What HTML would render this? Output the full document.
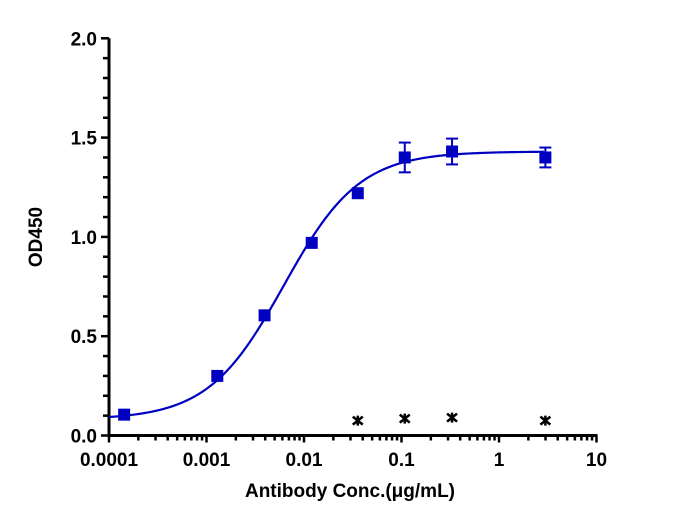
<!DOCTYPE html>
<html><head><meta charset="utf-8"><style>
html,body{margin:0;padding:0;background:#fff;}
svg{display:block;font-family:"Liberation Sans",Arial,sans-serif;}
</style></head><body>
<svg id="chart" width="676" height="519" viewBox="0 0 676 519"></svg>
<script>
const concValues=[0.000143,0.00129,0.00394,0.0120,0.0356,0.108,0.33,2.99];
const odValues=[0.105,0.30,0.605,0.97,1.22,1.40,1.43,1.40];
const odErrors=[0,0,0,0,0,0.075,0.065,0.05];
const ctrlConc=[0.0356,0.108,0.33,2.99];
const ctrlValues=[0.075,0.085,0.09,0.075];
const xTickLabels=["0.0001","0.001","0.01","0.1","1","10"];
const yTickLabels=["0.0","0.5","1.0","1.5","2.0"];
const fitParams=[0.08,1.43,0.0062,1.12]; // bottom, top, EC50, hill

const svgEl=document.getElementById('chart');
const NS='http://www.w3.org/2000/svg';
const X0=109,PXD=97.5,Y0=435.5,PXU=198.6;
function xs(v){return X0+(Math.log10(v)+4)*PXD;}
function ys(v){return Y0-v*PXU;}
function mk(tag,attrs,parent){const e=document.createElementNS(NS,tag);for(const k in attrs)e.setAttribute(k,attrs[k]);(parent||svgEl).appendChild(e);return e;}

const ax=mk('g',{});


let ln=mk('line',{x1:X0,y1:ys(2),x2:X0,y2:Y0+1.5,stroke:'#000','stroke-width':3},ax);


ln=mk('line',{x1:X0-1.5,y1:Y0,x2:xs(10)+1,y2:Y0,stroke:'#000','stroke-width':3},ax);


for(let i=0;i<=20;i++){
  const v=i*0.1,major=(i%5===0);
  ln=mk('line',{x1:X0-(major?8:6),y1:ys(v),x2:X0,y2:ys(v),stroke:'#000','stroke-width':2.5},ax);
  
  
}
yTickLabels.forEach(s=>{
  const tx=mk('text',{x:X0-12,y:ys(parseFloat(s))+7,'text-anchor':'end','font-size':19,'font-weight':'bold'},ax);
  tx.textContent=s;
  
  
});
for(let dd=-4;dd<=1;dd++){
  for(let m=1;m<=9;m++){
    if(dd===1&&m>1)break;
    const v=m*Math.pow(10,dd);
    const major=m===1;
    ln=mk('line',{x1:xs(v),y1:Y0,x2:xs(v),y2:Y0+(major?7:5),stroke:'#000','stroke-width':2.5},ax);
    
    
  }
}
xTickLabels.forEach(s=>{
  const tx=mk('text',{x:xs(parseFloat(s)),y:466,'text-anchor':'middle','font-size':19,'font-weight':'bold'},ax);
  tx.textContent=s;
  
  
});
let ttl=mk('text',{x:350,y:497,'text-anchor':'middle','font-size':19,'font-weight':'bold'});
ttl.textContent='Antibody Conc.(μg/mL)';


ttl=mk('text',{x:42,y:237,'text-anchor':'middle','font-size':19,'font-weight':'bold',transform:'rotate(-90 42 237)'});
ttl.textContent='OD450';



const fitBottom=fitParams[0],fitTop=fitParams[1],fitEC50=fitParams[2],fitHill=fitParams[3];
let pathD='';
for(let lx=-4;lx<=Math.log10(3)+1e-9;lx+=0.02){
  const v=Math.pow(10,lx);
  const yv=fitBottom+(fitTop-fitBottom)/(1+Math.pow(fitEC50/v,fitHill));
  pathD+=(pathD?'L':'M')+xs(v).toFixed(2)+','+ys(yv).toFixed(2);
}
const curve=mk('path',{d:pathD,fill:'none',stroke:'#0000c0','stroke-width':2.2});



concValues.forEach((c,i)=>{
  const g=mk('g',{});
  
  
  const cx=xs(c),cy=ys(odValues[i]),e=odErrors[i];
  if(e>0){
    const y1=ys(odValues[i]+e),y2=ys(odValues[i]-e);
    mk('line',{x1:cx,y1:y1,x2:cx,y2:y2,stroke:'#0000c0','stroke-width':2},g);
    mk('line',{x1:cx-6,y1:y1,x2:cx+6,y2:y1,stroke:'#0000c0','stroke-width':2},g);
    mk('line',{x1:cx-6,y1:y2,x2:cx+6,y2:y2,stroke:'#0000c0','stroke-width':2},g);
  }
  mk('rect',{x:cx-6,y:cy-6,width:12,height:12,fill:'#0000c0'},g);
});
ctrlConc.forEach((c,i)=>{
  const g=mk('g',{});
  
  
  const cx=xs(c),cy=ys(ctrlValues[i]);
  mk('path',{d:`M${cx-5},${cy-4}L${cx+5},${cy+4}M${cx-5},${cy+4}L${cx+5},${cy-4}M${cx},${cy-5}L${cx},${cy+5}`,stroke:'#000','stroke-width':2.5,fill:'none'},g);
});
</script>
</body></html>
